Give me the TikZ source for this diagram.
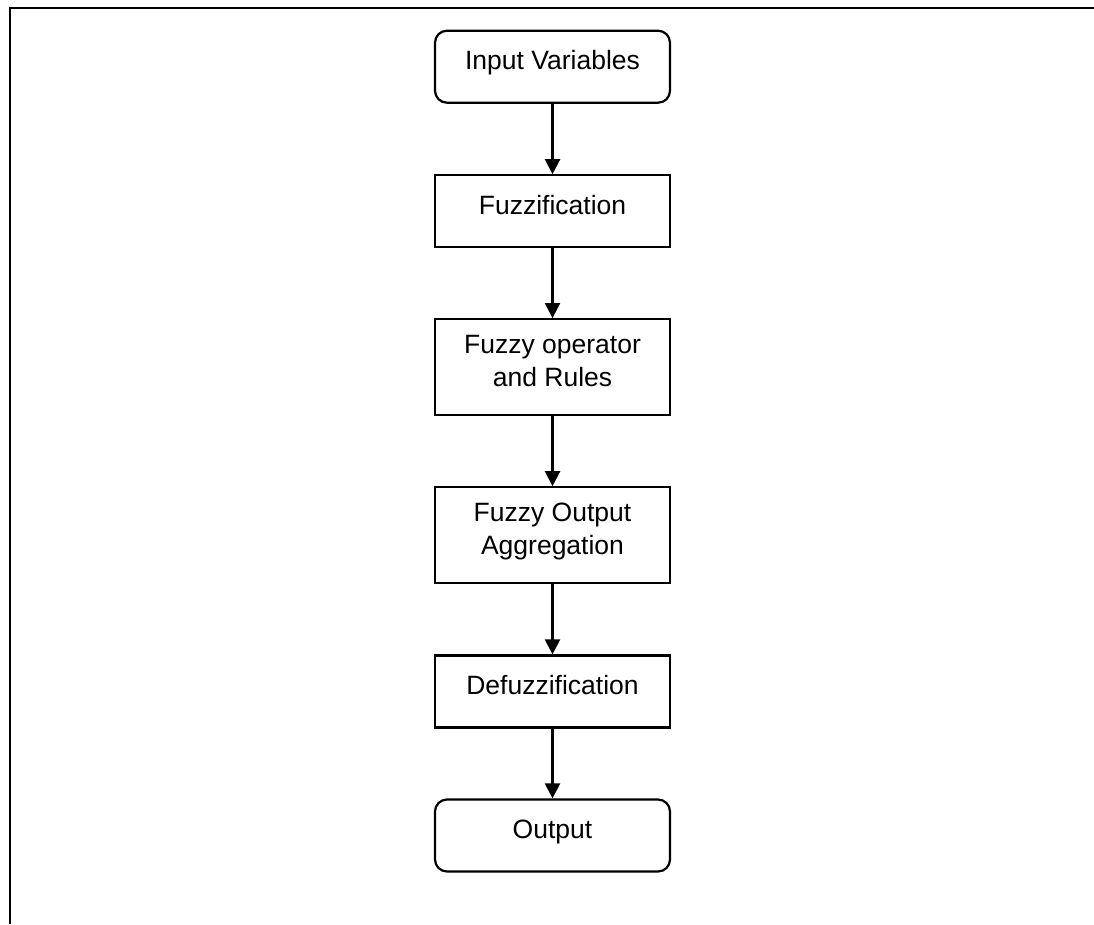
\documentclass[tikz,border=0pt]{standalone}
\usepackage{fontspec}
\setmainfont{Liberation Sans}
\usetikzlibrary{arrows.meta}

% line strut: fixed height and depth so every text line sits the same way
\newcommand{\tl}[1]{\rule[-13pt]{0pt}{31pt}#1}

\tikzset{
  x=1pt, y=-1pt,
  frameline/.style={line width=2pt},
  box/.style={draw, line width=2.2pt, minimum width=235pt, align=center,
    inner sep=0pt, font=\fontsize{26.5}{31.6}\selectfont},
  stepbox/.style={box, minimum height=72pt},
  tallbox/.style={box, minimum height=96pt},
  termbox/.style={box, minimum height=72pt, rounded corners=12pt},
  flow/.style={line width=2.2pt, -{Triangle[width=15pt,length=15pt]}},
}

\begin{document}
\begin{tikzpicture}
\useasboundingbox (0,0) rectangle (1094,924);

% open frame: top and left edges only
\coordinate (fl) at (9,7.7);
\coordinate (fr) at (1094,7.7);
\coordinate (fb) at (10,924);
\draw[frameline] (fl) -- (fr);
\draw[frameline] (10,7) -- (fb);

\node[termbox] (inp)   at (552.5,66.7)  {\tl{Input Variables}};
\node[stepbox] (fuz)   at (552.5,211.3) {\tl{Fuzzification}};
\node[tallbox] (rules) at (552.5,367.2) {\tl{Fuzzy operator}\\\tl{and Rules}};
\node[tallbox] (agg)   at (552.5,535.3) {\tl{Fuzzy Output}\\\tl{Aggregation}};
\node[stepbox] (defuz) at (552.5,691.5) {\tl{Defuzzification}};
\node[termbox] (out)   at (552.5,835.5) {\tl{Output}};

\draw[flow] (inp) -- (fuz);
\draw[flow] (fuz) -- (rules);
\draw[flow] (rules) -- (agg);
\draw[flow] (agg) -- (defuz);
\draw[flow] (defuz) -- (out);
\end{tikzpicture}
\end{document}
